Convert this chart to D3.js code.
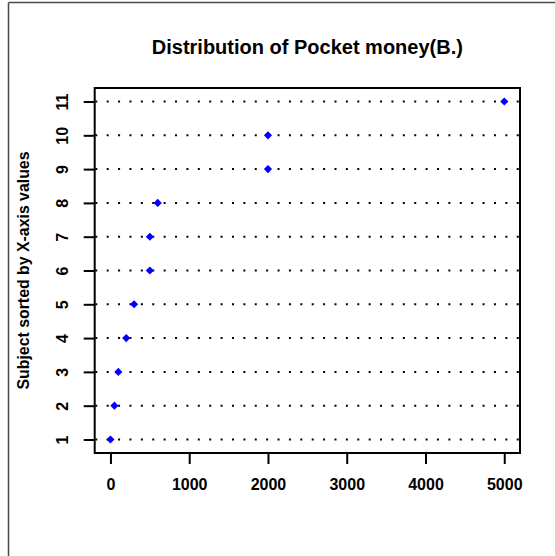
<!DOCTYPE html>
<html>
<head>
<meta charset="utf-8">
<script src="https://cdn.jsdelivr.net/npm/d3@7"></script>
<style>
  html, body { margin: 0; padding: 0; background: #fff; }
  svg { display: block; }
  text { font-family: "Liberation Sans", Arial, Helvetica, sans-serif; font-weight: bold; fill: #000; }
</style>
</head>
<body>
<svg id="chart" width="555" height="556"></svg>
<script>
// Subjects (sorted by pocket money) and their pocket money in baht
const subjects = [1, 2, 3, 4, 5, 6, 7, 8, 9, 10, 11];
const pocketMoney = [0, 50, 100, 200, 300, 500, 500, 600, 2000, 2000, 5000];
const xTicks = [0, 1000, 2000, 3000, 4000, 5000];
const titleText = "Distribution of Pocket money(B.)";
const yTitleText = "Subject sorted by X-axis values";

const svg = d3.select("#chart");

// outer frame (top and left edges)
svg.append("line").attr("x1", 8.5).attr("x2", 555).attr("y1", 2.5).attr("y2", 2.5)
  .attr("stroke", "#4a4a4a").attr("stroke-width", 1.5);
svg.append("line").attr("x1", 8.5).attr("x2", 8.5).attr("y1", 2.5).attr("y2", 556)
  .attr("stroke", "#4a4a4a").attr("stroke-width", 1.5);

const plot = { left: 94.7, right: 520, top: 88, bottom: 453 };

const x = d3.scaleLinear().domain([-200, 5200]).range([plot.left, plot.right]);
const y = d3.scaleLinear().domain([0.6, 11.4]).range([plot.bottom, plot.top]);

// dotted reference lines, one per subject
svg.append("g").selectAll("line").data(subjects).join("line")
  .attr("x1", plot.left).attr("x2", plot.right)
  .attr("y1", d => y(d)).attr("y2", d => y(d))
  .attr("stroke", "#000").attr("stroke-width", 2)
  .attr("stroke-dasharray", "2,9.39").attr("stroke-dashoffset", -0.6);

// points as filled diamonds
const diamond = d3.symbol().type(d3.symbolDiamond2).size(2 * 4.6 * 4.6);
svg.append("g").selectAll("path").data(subjects).join("path")
  .attr("d", diamond)
  .attr("transform", (d, i) => `translate(${x(pocketMoney[i])},${y(d)})`)
  .attr("fill", "#0000ff");

// bottom axis
const xAxis = svg.append("g")
  .attr("transform", `translate(0,${plot.bottom})`)
  .call(d3.axisBottom(x).tickValues(xTicks).tickFormat(d3.format("d"))
    .tickSize(11).tickSizeOuter(0).tickPadding(15));
xAxis.select(".domain").remove();
xAxis.selectAll(".tick line").attr("stroke", "#000").attr("stroke-width", 2);
xAxis.selectAll(".tick text").attr("font-size", 16).attr("fill", "#000")
  .attr("font-family", null);

// left axis with labels parallel to the axis
const yAxis = svg.append("g")
  .attr("transform", `translate(${plot.left},0)`)
  .call(d3.axisLeft(y).tickValues(subjects).tickFormat(d3.format("d"))
    .tickSize(11).tickSizeOuter(0));
yAxis.select(".domain").remove();
yAxis.selectAll(".tick line").attr("stroke", "#000").attr("stroke-width", 2);
yAxis.selectAll(".tick text")
  .attr("x", null).attr("dy", null)
  .attr("transform", `translate(-27,0) rotate(-90)`)
  .attr("text-anchor", "middle")
  .attr("font-size", 16).attr("fill", "#000").attr("font-family", null);

// plot box
svg.append("rect")
  .attr("x", plot.left).attr("y", plot.top)
  .attr("width", plot.right - plot.left).attr("height", plot.bottom - plot.top)
  .attr("fill", "none").attr("stroke", "#000").attr("stroke-width", 2);

// title
svg.append("text")
  .attr("x", (plot.left + plot.right) / 2).attr("y", 54)
  .attr("text-anchor", "middle").attr("font-size", 20)
  .text(titleText);

// y-axis title
svg.append("text")
  .attr("transform", `translate(29,${(plot.top + plot.bottom) / 2}) rotate(-90)`)
  .attr("text-anchor", "middle").attr("font-size", 17)
  .attr("textLength", 238).attr("lengthAdjust", "spacingAndGlyphs")
  .text(yTitleText);
</script>
</body>
</html>
